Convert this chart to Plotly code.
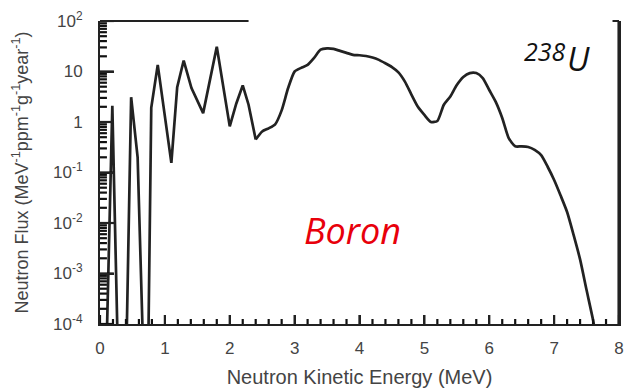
import plotly.graph_objects as go

# Jagged low-energy part (MeV, flux)
energy_low = [0.10, 0.19, 0.30, 0.40, 0.48, 0.58, 0.72, 0.79, 0.89, 1.10, 1.19, 1.29,
              1.41, 1.59, 1.80, 2.00, 2.10, 2.20, 2.29, 2.40]
flux_low = [3e-5, 2.1, 1e-6, 1e-5, 3.1, 0.2, 1e-7, 1.9, 13.5, 0.155, 4.9, 16.5,
            4.7, 1.5, 31.0, 0.82, 2.3, 5.3, 2.2, 0.45]

# Smooth high-energy part (MeV, flux)
energy_high = [2.40, 2.50, 2.60, 2.70, 2.80, 2.90, 3.00, 3.10, 3.20, 3.30, 3.40, 3.50,
               3.60, 3.70, 3.80, 3.90, 4.00, 4.10, 4.20, 4.30, 4.40, 4.50, 4.60, 4.70,
               4.80, 4.90, 5.00, 5.10, 5.20, 5.30, 5.40, 5.50, 5.60, 5.70, 5.80, 5.90,
               6.00, 6.10, 6.20, 6.30, 6.40, 6.50, 6.60, 6.70, 6.80, 6.90, 7.00, 7.10,
               7.20, 7.30, 7.40, 7.50, 7.60, 7.65]
flux_high = [0.45, 0.65, 0.75, 0.9, 1.7, 4.7, 10.0, 11.8, 13.5, 18.6, 27.0, 28.7,
             28.0, 25.6, 23.4, 21.4, 21.0, 20.3, 19.0, 17.0, 14.5, 12.2, 9.6, 6.3,
             3.5, 2.0, 1.38, 1.0, 1.05, 2.2, 3.2, 5.4, 7.8, 9.3, 9.3, 7.4,
             4.3, 2.5, 1.2, 0.48, 0.33, 0.33, 0.32, 0.28, 0.22, 0.13, 0.071, 0.035,
             0.0165, 0.0058, 0.0019, 4.7e-4, 1.2e-4, 5e-5]

y_tickvals = [1e-4, 1e-3, 1e-2, 1e-1, 1, 10, 100]
y_ticktext = ["10<sup>-4</sup>", "10<sup>-3</sup>", "10<sup>-2</sup>", "10<sup>-1</sup>",
              "1", "10", "10<sup>2</sup>"]
x_tickvals = [0, 1, 2, 3, 4, 5, 6, 7, 8]
x_minor_vals = [i / 5 for i in range(41) if i % 5 != 0]
y_minor_vals = [m * d for d in y_tickvals[:-1] for m in range(2, 10)]

x_range = [0, 8]
y_range_log = [-4, 2]

line_color = "#222222"
text_color = "#444444"
font_family = "Liberation Sans, Arial, sans-serif"

# plot area in pixels (for placing text labels / tick lengths)
PX_L, PX_R, PX_T, PX_B = 100, 624, 21, 324
PW, PH = PX_R - PX_L, PX_B - PX_T


def px(xp, yp):
    return (xp - PX_L) / PW, (PX_B - yp) / PH


def xlen(pixels):
    return pixels / PW * (x_range[1] - x_range[0])


def ylen_factor(pixels):
    return 10 ** (pixels / PH * (y_range_log[1] - y_range_log[0]))


fig = go.Figure()

fig.add_trace(go.Scatter(x=energy_low, y=flux_low, mode="lines",
                         line=dict(color=line_color, width=2.7), showlegend=False))
fig.add_trace(go.Scatter(x=energy_high, y=flux_high, mode="lines",
                         line=dict(color=line_color, width=2.7, shape="spline", smoothing=0.6),
                         showlegend=False))

# tick marks (inside the frame) built from the tick values
tx, ty = [], []
base = 10 ** y_range_log[0]
for v, ln in [(v, 9) for v in x_tickvals] + [(v, 5) for v in x_minor_vals]:
    tx += [v, v, None]
    ty += [base, base * ylen_factor(ln), None]
for v, ln in [(v, 14) for v in y_tickvals] + [(v, 7) for v in y_minor_vals]:
    tx += [x_range[0], x_range[0] + xlen(ln), None]
    ty += [v, v, None]
fig.add_trace(go.Scatter(x=tx, y=ty, mode="lines", line=dict(color="#111111", width=2.2),
                         connectgaps=False, showlegend=False, hoverinfo="skip"))

fig.update_layout(
    width=629, height=391,
    margin=dict(l=PX_L, r=629 - PX_R, t=PX_T, b=391 - PX_B),
    paper_bgcolor="white", plot_bgcolor="white",
    font=dict(family=font_family, color=text_color, size=17),
)

fig.update_xaxes(
    range=x_range, tickmode="array", tickvals=x_tickvals, ticktext=[str(v) for v in x_tickvals],
    showgrid=False, zeroline=False, showline=True, linecolor=line_color, linewidth=2,
    ticks="inside", ticklen=9, tickwidth=2, tickcolor=line_color,
    tickfont=dict(size=17, color=text_color), ticklabelstandoff=8,
    title=dict(text="Neutron Kinetic Energy (MeV)", font=dict(size=20, color=text_color), standoff=13),
)
fig.update_yaxes(
    type="log", range=y_range_log, tickmode="array", tickvals=y_tickvals, ticktext=y_ticktext,
    showgrid=False, zeroline=False, showline=True, mirror=True, linecolor=line_color, linewidth=2,
    ticks="inside", ticklen=14, tickwidth=2, tickcolor=line_color,
    tickfont=dict(size=17, color=text_color), ticklabelstandoff=12,
    title=dict(text="Neutron Flux (MeV<sup>-1</sup>ppm<sup>-1</sup>g<sup>-1</sup>year<sup>-1</sup>)",
               font=dict(size=18, color=text_color), standoff=20),
)

# partial top frame and right frame
fig.add_shape(type="line", xref="x", yref="paper", x0=0, x1=2.29, y0=1, y1=1,
              line=dict(color=line_color, width=2))
fig.add_shape(type="line", xref="x", yref="paper", x0=7.9, x1=8, y0=1, y1=1,
              line=dict(color=line_color, width=2))
fig.add_shape(type="line", xref="x", yref="paper", x0=7.995, x1=7.995, y0=0, y1=1,
              line=dict(color=line_color, width=2.5))

bx, by = px(355, 231)
fig.add_annotation(x=bx, y=by, xref="paper", yref="paper", text="<i>Boron</i>", showarrow=False,
                   xanchor="center", yanchor="middle",
                   font=dict(family="Open Sans, sans-serif", size=36, color="#e8000b"))
ux, uy = px(583, 59)
fig.add_annotation(x=ux, y=uy, xref="paper", yref="paper", text="<i>U</i>", showarrow=False,
                   xanchor="center", yanchor="middle",
                   font=dict(family="Open Sans, sans-serif", size=33, color="#111111"))
nx, ny = px(573, 51)
fig.add_annotation(x=nx, y=ny, xref="paper", yref="paper", text="<i>238</i>", showarrow=False,
                   xanchor="right", yanchor="middle",
                   font=dict(family="Open Sans, sans-serif", size=25, color="#111111"))

fig.write_html("out.html")
